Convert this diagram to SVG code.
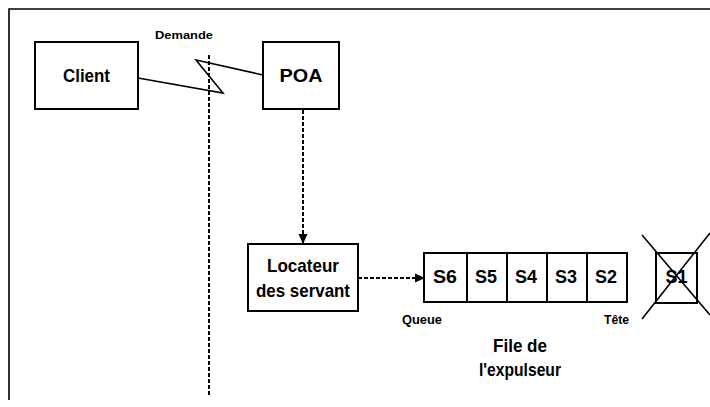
<svg xmlns="http://www.w3.org/2000/svg" width="710" height="407" viewBox="0 0 710 407">
  <defs>
    <marker id="arrow" markerWidth="10" markerHeight="10" refX="9" refY="5" orient="auto" markerUnits="userSpaceOnUse">
      <path d="M0,0.5 L10,5 L0,9.5 Z" fill="#000"/>
    </marker>
    <style>
      .box { fill: #fff; stroke: #000; stroke-width: 2; }
      .cell { fill: #fff; stroke: #000; stroke-width: 2; }
      .lbl { font-family: "Liberation Sans", Arial, sans-serif; font-weight: bold; fill: #000; text-anchor: middle; }
      .big { font-size: 19px; }
      .small { font-size: 12px; }
      .dash { fill: none; stroke: #000; stroke-width: 2; stroke-dasharray: 4 2; }
      .line { fill: none; stroke: #000; stroke-width: 1.6; }
    </style>
  </defs>

  <rect width="710" height="407" fill="#fff"/>

  <!-- outer frame (open on the right and bottom) -->
  <path class="line" d="M9,400 L9,9 L710,9" stroke-width="2"/>

  <g id="client">
    <rect class="box" x="35" y="42" width="103" height="67"/>
    <text class="lbl big" x="86.5" y="82" textLength="47" lengthAdjust="spacingAndGlyphs">Client</text>
  </g>

  <g id="poa">
    <rect class="box" x="263" y="42" width="76" height="67"/>
    <text class="lbl big" x="301" y="82" textLength="43" lengthAdjust="spacingAndGlyphs">POA</text>
  </g>

  <g id="locateur">
    <rect class="box" x="248" y="244" width="110" height="67"/>
    <text class="lbl big" x="303" y="272" textLength="72" lengthAdjust="spacingAndGlyphs">Locateur</text>
    <text class="lbl big" x="303" y="297" textLength="94" lengthAdjust="spacingAndGlyphs">des servant</text>
  </g>

  <g id="file-expulseur">
    <rect class="cell" x="424" y="253" width="43" height="49"/>
    <rect class="cell" x="467" y="253" width="40" height="49"/>
    <rect class="cell" x="507" y="253" width="40" height="49"/>
    <rect class="cell" x="547" y="253" width="40" height="49"/>
    <rect class="cell" x="587" y="253" width="40" height="49"/>
    <text class="lbl big" x="445" y="283" textLength="24" lengthAdjust="spacingAndGlyphs">S6</text>
    <text class="lbl big" x="486" y="283" textLength="22" lengthAdjust="spacingAndGlyphs">S5</text>
    <text class="lbl big" x="526" y="283" textLength="22" lengthAdjust="spacingAndGlyphs">S4</text>
    <text class="lbl big" x="566" y="283" textLength="22" lengthAdjust="spacingAndGlyphs">S3</text>
    <text class="lbl big" x="606" y="283" textLength="22" lengthAdjust="spacingAndGlyphs">S2</text>
    <text class="lbl small" x="422" y="324" textLength="40" lengthAdjust="spacingAndGlyphs">Queue</text>
    <text class="lbl small" x="616.5" y="324" textLength="25" lengthAdjust="spacingAndGlyphs">Tête</text>
    <text class="lbl big" x="520" y="352" textLength="54" lengthAdjust="spacingAndGlyphs">File de</text>
    <text class="lbl big" x="520" y="376" textLength="82" lengthAdjust="spacingAndGlyphs">l'expulseur</text>
  </g>

  <g id="s1-expulse">
    <rect class="cell" x="656" y="253" width="41" height="50"/>
    <text class="lbl big" x="676.5" y="283" textLength="22" lengthAdjust="spacingAndGlyphs">S1</text>
    <line class="line" x1="642" y1="235" x2="710" y2="315"/>
    <line class="line" x1="642" y1="319" x2="710" y2="233"/>
  </g>

  <g id="connectors">
    <!-- request crossing the boundary -->
    <path class="line" d="M138,78 L223,93 L196,60 L263,75"/>
    <text class="lbl" x="184" y="39" font-size="11" textLength="58" lengthAdjust="spacingAndGlyphs">Demande</text>
    <!-- process boundary -->
    <line class="dash" x1="209" y1="55" x2="209" y2="397"/>
    <!-- POA to servant locator -->
    <line class="dash" x1="303" y1="110" x2="303" y2="243" marker-end="url(#arrow)"/>
    <!-- servant locator to evictor queue -->
    <line class="dash" x1="358" y1="278" x2="424" y2="278" marker-end="url(#arrow)"/>
  </g>
</svg>
